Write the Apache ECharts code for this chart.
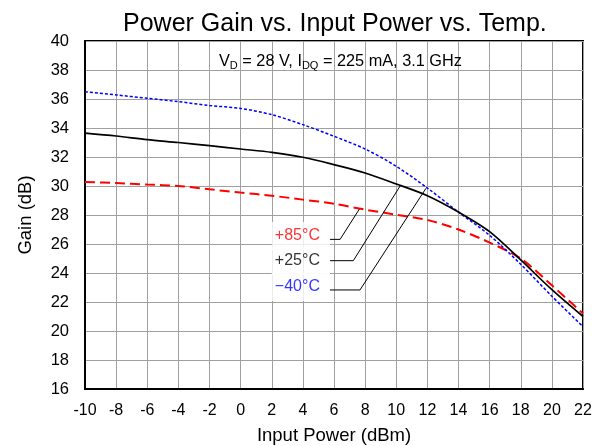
<!DOCTYPE html>
<html>
<head>
<meta charset="utf-8">
<script src="https://cdn.jsdelivr.net/npm/echarts@6/dist/echarts.min.js"></script>
<style>html,body{margin:0;padding:0;background:#fff}#c{width:602px;height:446px}</style>
</head>
<body>
<div id="c"></div>
<script>
var inputPower = [-10,-8,-6,-4,-2,0,2,4,6,8,10,12,14,16,18,20,22];
var gain25 = [33.65,33.45,33.2,33.0,32.78,32.55,32.32,31.98,31.47,30.9,30.14,29.33,28.2,26.85,24.9,22.85,21.0];
var gainM40 = [36.5,36.28,36.05,35.82,35.55,35.35,34.92,34.23,33.43,32.55,31.36,29.86,28.2,26.6,24.6,22.4,20.3];
var gain85 = [30.28,30.2,30.1,30.0,29.77,29.55,29.33,29.06,28.78,28.37,28.02,27.65,27.0,26.1,25.0,23.15,21.2];
var xTicks = {min: -10, max: 22, interval: 2};
var yTicks = {min: 16, max: 40, interval: 2};
var labels = ['+85\u00B0C', '+25\u00B0C', '\u221240\u00B0C'];
var labelColors = ['#ff0000', '#000000', '#0000ff'];
var labelPos = [[5.74, 26.55], [5.74, 24.83], [5.74, 23.03]];
var leader85 = [[5.74, 26.32], [6.39, 26.32], [7.63, 28.41]];
var leader25 = [[5.74, 24.85], [7.24, 24.85], [10.29, 30.07]];
var leaderM40 = [[5.74, 22.83], [7.67, 22.83], [11.91, 29.84]];

function pairs(xs, ys) { return xs.map(function (x, i) { return [x, ys[i]]; }); }

var font = 'Liberation Sans, Arial, sans-serif';
var chart = echarts.init(document.getElementById('c'), null, {renderer: 'canvas'});
var leaderStyle = {color: '#000', width: 1};
chart.setOption({
  animation: false,
  backgroundColor: '#fff',
  title: [{
    text: 'Power Gain vs. Input Power vs. Temp.',
    left: 118, top: 7,
    textStyle: {fontFamily: font, fontSize: 25, fontWeight: 'normal', color: '#000'}
  }, {
    text: 'V{s|D} = 28 V, I{s|DQ} = 225 mA, 3.1 GHz',
    left: 214, top: 47,
    textStyle: {fontFamily: font, fontSize: 16.3, fontWeight: 'normal', color: '#000',
      rich: {s: {fontFamily: font, fontSize: 11, color: '#000', verticalAlign: 'bottom', padding: [8, 0, 0, 0]}}}
  }],
  grid: {left: 85, right: 19, top: 41, bottom: 57, outerBoundsMode: 'none', containLabel: false,
    show: true, borderColor: '#000', borderWidth: 2, backgroundColor: 'transparent'},
  xAxis: {
    type: 'value', min: xTicks.min, max: xTicks.max, interval: xTicks.interval,
    name: 'Input Power (dBm)', nameLocation: 'middle', nameGap: 37,
    nameTextStyle: {fontFamily: font, fontSize: 18.5, color: '#000'},
    axisLine: {show: true, onZero: false, lineStyle: {color: '#000', width: 2}},
    axisTick: {show: false},
    axisLabel: {fontFamily: font, fontSize: 16, color: '#000', margin: 14},
    splitLine: {show: true, lineStyle: {color: '#a0a0a0', width: 1}}
  },
  yAxis: {
    type: 'value', min: yTicks.min, max: yTicks.max, interval: yTicks.interval,
    name: 'Gain (dB)', nameLocation: 'middle', nameGap: 50,
    nameTextStyle: {fontFamily: font, fontSize: 18.5, color: '#000'},
    axisLine: {show: true, onZero: false, lineStyle: {color: '#000', width: 2}},
    axisTick: {show: false},
    axisLabel: {fontFamily: font, fontSize: 16.5, color: '#000', margin: 16},
    splitLine: {show: true, lineStyle: {color: '#a0a0a0', width: 1}}
  },
  series: [
    {type: 'line', name: '+85', data: pairs(inputPower, gain85), smooth: 0.3, symbol: 'none', z: 3,
      lineStyle: {color: '#ff0000', width: 2, type: [10, 5]}},
    {type: 'line', name: '-40', data: pairs(inputPower, gainM40), smooth: 0.3, symbol: 'none', z: 4,
      lineStyle: {color: '#0000ff', width: 1.5, type: [3, 2]}},
    {type: 'line', name: '+25', data: pairs(inputPower, gain25), smooth: 0.3, symbol: 'none', z: 5,
      lineStyle: {color: '#000000', width: 1.7}},
    {type: 'scatter', symbolSize: 0, z: 6,
      data: labels.map(function (t, i) {
        return {value: labelPos[i], label: {show: true, formatter: t, position: 'left', distance: 0,
          fontFamily: font, fontSize: 16, color: labelColors[i], backgroundColor: '#fff', padding: [6, 10, 6, 3]}};
      })},
    {type: 'line', data: leader85, symbol: 'none', lineStyle: leaderStyle, z: 7},
    {type: 'line', data: leader25, symbol: 'none', lineStyle: leaderStyle, z: 7},
    {type: 'line', data: leaderM40, symbol: 'none', lineStyle: leaderStyle, z: 7}
  ]
});
</script>
</body>
</html>
